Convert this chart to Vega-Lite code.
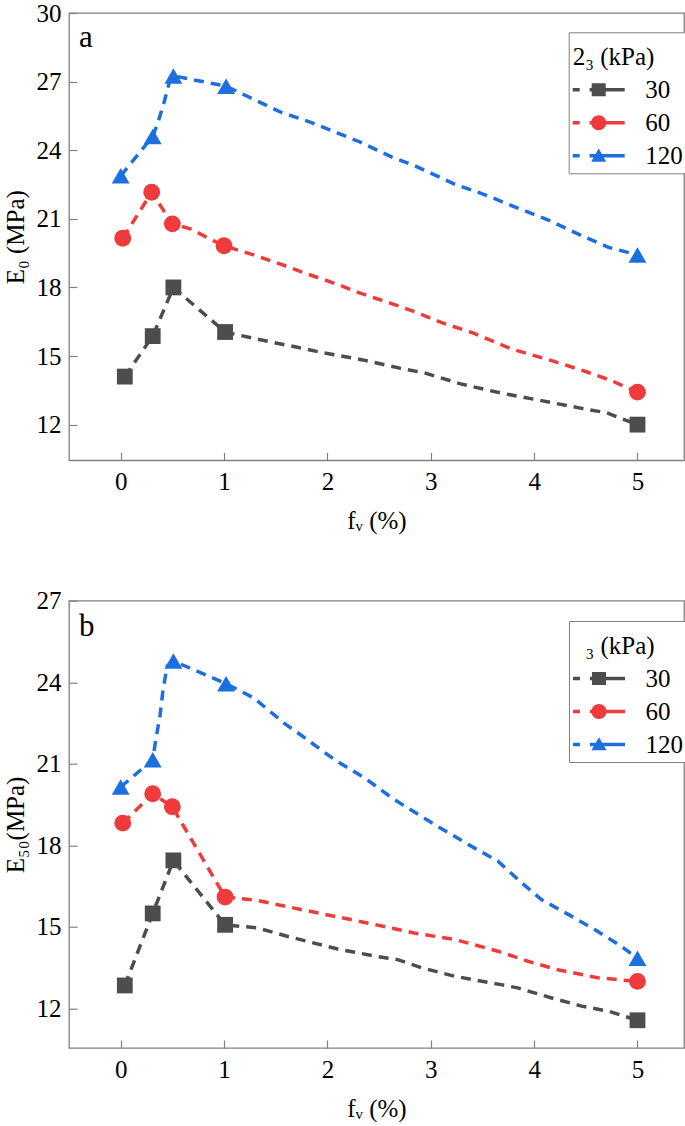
{
  "$schema": "https://vega.github.io/schema/vega-lite/v6.json",
  "padding": {"left": 2, "top": 0, "right": 0, "bottom": 0},
  "bounds": "flush",
  "spacing": 139.7,
  "background": "white",
  "datasets": {
    "lineA": [
      {"s": "30", "x": 0.04, "y": 14.1}, {"s": "30", "x": 0.31, "y": 15.87}, {"s": "30", "x": 0.51, "y": 18.0}, {"s": "30", "x": 1.01, "y": 16.05}, {"s": "30", "x": 1.32, "y": 15.74}, {"s": "30", "x": 1.71, "y": 15.38}, {"s": "30", "x": 1.94, "y": 15.16}, {"s": "30", "x": 2.34, "y": 14.83}, {"s": "30", "x": 2.71, "y": 14.46}, {"s": "30", "x": 2.94, "y": 14.26}, {"s": "30", "x": 3.29, "y": 13.78}, {"s": "30", "x": 3.68, "y": 13.38}, {"s": "30", "x": 4.07, "y": 13.05}, {"s": "30", "x": 4.46, "y": 12.71}, {"s": "30", "x": 4.7, "y": 12.52}, {"s": "30", "x": 5, "y": 12.0},
      {"s": "60", "x": 0.02, "y": 20.15}, {"s": "60", "x": 0.3, "y": 22.16}, {"s": "60", "x": 0.5, "y": 20.78}, {"s": "60", "x": 0.68, "y": 20.55}, {"s": "60", "x": 0.85, "y": 20.15}, {"s": "60", "x": 1.0, "y": 19.82}, {"s": "60", "x": 1.31, "y": 19.39}, {"s": "60", "x": 1.57, "y": 18.98}, {"s": "60", "x": 1.76, "y": 18.66}, {"s": "60", "x": 2.1, "y": 18.13}, {"s": "60", "x": 2.29, "y": 17.79}, {"s": "60", "x": 2.65, "y": 17.25}, {"s": "60", "x": 2.86, "y": 16.91}, {"s": "60", "x": 3.1, "y": 16.47}, {"s": "60", "x": 3.39, "y": 16.04}, {"s": "60", "x": 3.78, "y": 15.31}, {"s": "60", "x": 4.17, "y": 14.8}, {"s": "60", "x": 4.52, "y": 14.29}, {"s": "60", "x": 4.75, "y": 13.92}, {"s": "60", "x": 5, "y": 13.42},
      {"s": "120", "x": 0, "y": 22.88}, {"s": "120", "x": 0.31, "y": 24.6}, {"s": "120", "x": 0.36, "y": 25.2}, {"s": "120", "x": 0.42, "y": 26.1}, {"s": "120", "x": 0.47, "y": 26.95}, {"s": "120", "x": 0.51, "y": 27.25}, {"s": "120", "x": 1.02, "y": 26.8}, {"s": "120", "x": 1.55, "y": 25.66}, {"s": "120", "x": 1.84, "y": 25.22}, {"s": "120", "x": 2.1, "y": 24.75}, {"s": "120", "x": 2.31, "y": 24.37}, {"s": "120", "x": 2.46, "y": 24.05}, {"s": "120", "x": 2.63, "y": 23.69}, {"s": "120", "x": 2.83, "y": 23.35}, {"s": "120", "x": 3.0, "y": 23.0}, {"s": "120", "x": 3.23, "y": 22.52}, {"s": "120", "x": 3.55, "y": 22.01}, {"s": "120", "x": 3.78, "y": 21.58}, {"s": "120", "x": 4.15, "y": 20.92}, {"s": "120", "x": 4.46, "y": 20.26}, {"s": "120", "x": 4.72, "y": 19.75}, {"s": "120", "x": 5, "y": 19.42}
    ],
    "ptsA": [
      {"s": "30", "x": 0.04, "y": 14.1}, {"s": "30", "x": 0.31, "y": 15.87}, {"s": "30", "x": 0.51, "y": 18.0}, {"s": "30", "x": 1.01, "y": 16.05}, {"s": "30", "x": 5, "y": 12.0},
      {"s": "60", "x": 0.02, "y": 20.15}, {"s": "60", "x": 0.3, "y": 22.16}, {"s": "60", "x": 0.5, "y": 20.78}, {"s": "60", "x": 1.0, "y": 19.82}, {"s": "60", "x": 5, "y": 13.42},
      {"s": "120", "x": 0, "y": 22.88}, {"s": "120", "x": 0.31, "y": 24.6}, {"s": "120", "x": 0.51, "y": 27.25}, {"s": "120", "x": 1.02, "y": 26.8}, {"s": "120", "x": 5, "y": 19.42}
    ],
    "lineB": [
      {"s": "30", "x": 0.04, "y": 12.85}, {"s": "30", "x": 0.31, "y": 15.5}, {"s": "30", "x": 0.51, "y": 17.45}, {"s": "30", "x": 1.01, "y": 15.08}, {"s": "30", "x": 1.32, "y": 14.97}, {"s": "30", "x": 1.61, "y": 14.66}, {"s": "30", "x": 2.1, "y": 14.19}, {"s": "30", "x": 2.46, "y": 13.93}, {"s": "30", "x": 2.68, "y": 13.8}, {"s": "30", "x": 2.91, "y": 13.5}, {"s": "30", "x": 3.23, "y": 13.19}, {"s": "30", "x": 3.68, "y": 12.88}, {"s": "30", "x": 3.84, "y": 12.76}, {"s": "30", "x": 4.17, "y": 12.39}, {"s": "30", "x": 4.46, "y": 12.09}, {"s": "30", "x": 4.72, "y": 11.9}, {"s": "30", "x": 5, "y": 11.57},
      {"s": "60", "x": 0.02, "y": 18.82}, {"s": "60", "x": 0.31, "y": 19.9}, {"s": "60", "x": 0.5, "y": 19.42}, {"s": "60", "x": 1.01, "y": 16.1}, {"s": "60", "x": 1.32, "y": 15.98}, {"s": "60", "x": 1.71, "y": 15.67}, {"s": "60", "x": 2.1, "y": 15.37}, {"s": "60", "x": 2.46, "y": 15.09}, {"s": "60", "x": 2.84, "y": 14.78}, {"s": "60", "x": 3.23, "y": 14.54}, {"s": "60", "x": 3.42, "y": 14.35}, {"s": "60", "x": 3.65, "y": 14.11}, {"s": "60", "x": 3.94, "y": 13.74}, {"s": "60", "x": 4.23, "y": 13.43}, {"s": "60", "x": 4.62, "y": 13.13}, {"s": "60", "x": 5, "y": 13.0},
      {"s": "120", "x": 0, "y": 20.15}, {"s": "120", "x": 0.31, "y": 21.15}, {"s": "120", "x": 0.34, "y": 21.9}, {"s": "120", "x": 0.38, "y": 22.76}, {"s": "120", "x": 0.41, "y": 23.73}, {"s": "120", "x": 0.45, "y": 24.6}, {"s": "120", "x": 0.51, "y": 24.78}, {"s": "120", "x": 1.02, "y": 23.95}, {"s": "120", "x": 1.29, "y": 23.42}, {"s": "120", "x": 1.58, "y": 22.5}, {"s": "120", "x": 1.74, "y": 22.07}, {"s": "120", "x": 2.07, "y": 21.15}, {"s": "120", "x": 2.36, "y": 20.48}, {"s": "120", "x": 2.65, "y": 19.68}, {"s": "120", "x": 3.04, "y": 18.76}, {"s": "120", "x": 3.42, "y": 17.91}, {"s": "120", "x": 3.65, "y": 17.42}, {"s": "120", "x": 3.88, "y": 16.62}, {"s": "120", "x": 4.07, "y": 16.01}, {"s": "120", "x": 4.36, "y": 15.4}, {"s": "120", "x": 4.59, "y": 14.9}, {"s": "120", "x": 4.84, "y": 14.3}, {"s": "120", "x": 5, "y": 13.85}
    ],
    "ptsB": [
      {"s": "30", "x": 0.04, "y": 12.85}, {"s": "30", "x": 0.31, "y": 15.5}, {"s": "30", "x": 0.51, "y": 17.45}, {"s": "30", "x": 1.01, "y": 15.08}, {"s": "30", "x": 5, "y": 11.57},
      {"s": "60", "x": 0.02, "y": 18.82}, {"s": "60", "x": 0.31, "y": 19.9}, {"s": "60", "x": 0.5, "y": 19.42}, {"s": "60", "x": 1.01, "y": 16.1}, {"s": "60", "x": 5, "y": 13.0},
      {"s": "120", "x": 0, "y": 20.15}, {"s": "120", "x": 0.31, "y": 21.15}, {"s": "120", "x": 0.51, "y": 24.78}, {"s": "120", "x": 1.02, "y": 23.95}, {"s": "120", "x": 5, "y": 13.85}
    ]
  },
  "config": {
    "font": "Liberation Serif",
    "style": {
      "guide-label": {"font": "Liberation Serif", "fontSize": 25, "fill": "#000000"},
      "guide-title": {"font": "Liberation Serif", "fontSize": 25, "fontWeight": "normal", "fill": "#000000"}
    },
    "view": {"stroke": "#808080", "strokeWidth": 1.3},
    "title": {"font": "Liberation Serif", "fontSize": 31, "fontWeight": "normal", "color": "#000000", "anchor": "start", "frame": "group", "baseline": "alphabetic", "dx": 10},
    "axis": {"domain": false, "grid": false, "ticks": true, "tickColor": "#808080", "tickSize": -8, "tickWidth": 1.2, "labelFont": "Liberation Serif", "labelFontSize": 25, "labelColor": "#000000", "labelFlush": false, "titleFont": "Liberation Serif", "titleFontSize": 25, "titleFontWeight": "normal", "titleColor": "#000000"},
    "axisX": {"labelPadding": 17, "titlePadding": 14},
    "axisY": {"labelPadding": 16, "titlePadding": 8},
    "legend": {"orient": "none", "padding": 4, "strokeColor": "#808080", "fillColor": "#ffffff", "titleFont": "Liberation Serif", "titleFontSize": 25, "titleFontWeight": "normal", "titleColor": "#000000", "labelFont": "Liberation Serif", "labelFontSize": 25, "labelColor": "#000000", "symbolSize": 1521, "symbolOffset": 6.5, "symbolOpacity": 1, "symbolStrokeWidth": 0, "labelOffset": 27, "rowPadding": 0, "titlePadding": 9, "titleBaseline": "line-top", "titleLineHeight": 44}
  },
  "vconcat": [
    {
      "title": {"text": "a", "offset": -53},
      "width": 615,
      "height": 447.3,
      "encoding": {
        "x": {"field": "x", "type": "quantitative", "scale": {"domain": [-0.5, 5.45], "nice": false, "zero": false}, "axis": {"values": [0, 1, 2, 3, 4, 5], "format": "d", "title": "fᵥ (%)"}},
        "y": {"field": "y", "type": "quantitative", "scale": {"domain": [10.44, 30], "nice": false, "zero": false}, "axis": {"values": [12, 15, 18, 21, 24, 27, 30], "format": "d", "title": "E₀ (MPa)"}}
      },
      "layer": [
        {
          "data": {"name": "lineA"},
          "mark": {"type": "line", "strokeWidth": 3.5, "strokeDash": [10, 7]},
          "encoding": {"color": {"field": "s", "type": "nominal", "scale": {"domain": ["30", "60", "120"], "range": ["#4d4d4d", "#ef3b3b", "#1d6fe0"]}, "legend": null}}
        },
        {
          "data": {"name": "ptsA"},
          "mark": {"type": "point", "filled": true, "opacity": 1},
          "encoding": {
            "color": {"field": "s", "type": "nominal", "scale": {"domain": ["30", "60", "120"], "range": ["#4d4d4d", "#ef3b3b", "#1d6fe0"]}, "legend": null},
            "shape": {"field": "s", "type": "nominal", "scale": {"domain": ["30", "60", "120"], "range": ["square", "circle", "triangle-up"]}, "legend": null},
            "size": {"field": "s", "type": "nominal", "scale": {"domain": ["30", "60", "120"], "range": [250, 320, 300]}, "legend": null}
          }
        },
        {
          "data": {"name": "ptsA"},
          "mark": {"type": "point", "filled": true, "opacity": 0, "strokeWidth": 0},
          "encoding": {
            "color": {"field": "s", "type": "nominal", "scale": {"domain": ["30", "60", "120"], "range": ["#4d4d4d", "#ef3b3b", "#1d6fe0"]}, "legend": {"title": "2₃ (kPa)", "legendX": 499.7, "legendY": 19.3}},
            "shape": {"field": "s", "type": "nominal", "scale": {"domain": ["30", "60", "120"], "range": ["M-1.333,-0.09H-0.974V0.09H-1.333Z M-0.467,-0.09H1.333V0.09H-0.467Z M-0.36,-0.33H0.36V0.33H-0.36Z", "M-1.333,-0.09H-0.974V0.09H-1.333Z M-0.467,-0.09H1.333V0.09H-0.467Z M-0.385,0A0.385,0.385 0 0 1 0.385,0A0.385,0.385 0 0 1 -0.385,0Z", "M-1.333,-0.09H-0.974V0.09H-1.333Z M-0.467,-0.09H1.333V0.09H-0.467Z M0,-0.37L0.385,0.3H-0.385Z"]}, "legend": {"title": "2₃ (kPa)", "legendX": 499.7, "legendY": 19.3}}
          }
        }
      ],
      "resolve": {"scale": {"shape": "independent", "color": "independent"}}
    },
    {
      "title": {"text": "b", "offset": -54},
      "width": 615,
      "height": 447.3,
      "encoding": {
        "x": {"field": "x", "type": "quantitative", "scale": {"domain": [-0.5, 5.45], "nice": false, "zero": false}, "axis": {"values": [0, 1, 2, 3, 4, 5], "format": "d", "title": "fᵥ (%)"}},
        "y": {"field": "y", "type": "quantitative", "scale": {"domain": [10.55, 27], "nice": false, "zero": false}, "axis": {"values": [12, 15, 18, 21, 24, 27], "format": "d", "title": "E₅₀(MPa)"}}
      },
      "layer": [
        {
          "data": {"name": "lineB"},
          "mark": {"type": "line", "strokeWidth": 3.5, "strokeDash": [10, 7]},
          "encoding": {"color": {"field": "s", "type": "nominal", "scale": {"domain": ["30", "60", "120"], "range": ["#4d4d4d", "#ef3b3b", "#1d6fe0"]}, "legend": null}}
        },
        {
          "data": {"name": "ptsB"},
          "mark": {"type": "point", "filled": true, "opacity": 1},
          "encoding": {
            "color": {"field": "s", "type": "nominal", "scale": {"domain": ["30", "60", "120"], "range": ["#4d4d4d", "#ef3b3b", "#1d6fe0"]}, "legend": null},
            "shape": {"field": "s", "type": "nominal", "scale": {"domain": ["30", "60", "120"], "range": ["square", "circle", "triangle-up"]}, "legend": null},
            "size": {"field": "s", "type": "nominal", "scale": {"domain": ["30", "60", "120"], "range": [250, 320, 300]}, "legend": null}
          }
        },
        {
          "data": {"name": "ptsB"},
          "mark": {"type": "point", "filled": true, "opacity": 0, "strokeWidth": 0},
          "encoding": {
            "color": {"field": "s", "type": "nominal", "scale": {"domain": ["30", "60", "120"], "range": ["#4d4d4d", "#ef3b3b", "#1d6fe0"]}, "legend": {"title": "\u200b\u2002₃ (kPa)", "legendX": 500, "legendY": 20.3}},
            "shape": {"field": "s", "type": "nominal", "scale": {"domain": ["30", "60", "120"], "range": ["M-1.333,-0.09H-0.974V0.09H-1.333Z M-0.467,-0.09H1.333V0.09H-0.467Z M-0.36,-0.33H0.36V0.33H-0.36Z", "M-1.333,-0.09H-0.974V0.09H-1.333Z M-0.467,-0.09H1.333V0.09H-0.467Z M-0.385,0A0.385,0.385 0 0 1 0.385,0A0.385,0.385 0 0 1 -0.385,0Z", "M-1.333,-0.09H-0.974V0.09H-1.333Z M-0.467,-0.09H1.333V0.09H-0.467Z M0,-0.37L0.385,0.3H-0.385Z"]}, "legend": {"title": "\u200b\u2002₃ (kPa)", "legendX": 500, "legendY": 20.3}}
          }
        }
      ],
      "resolve": {"scale": {"shape": "independent", "color": "independent"}}
    }
  ]
}
